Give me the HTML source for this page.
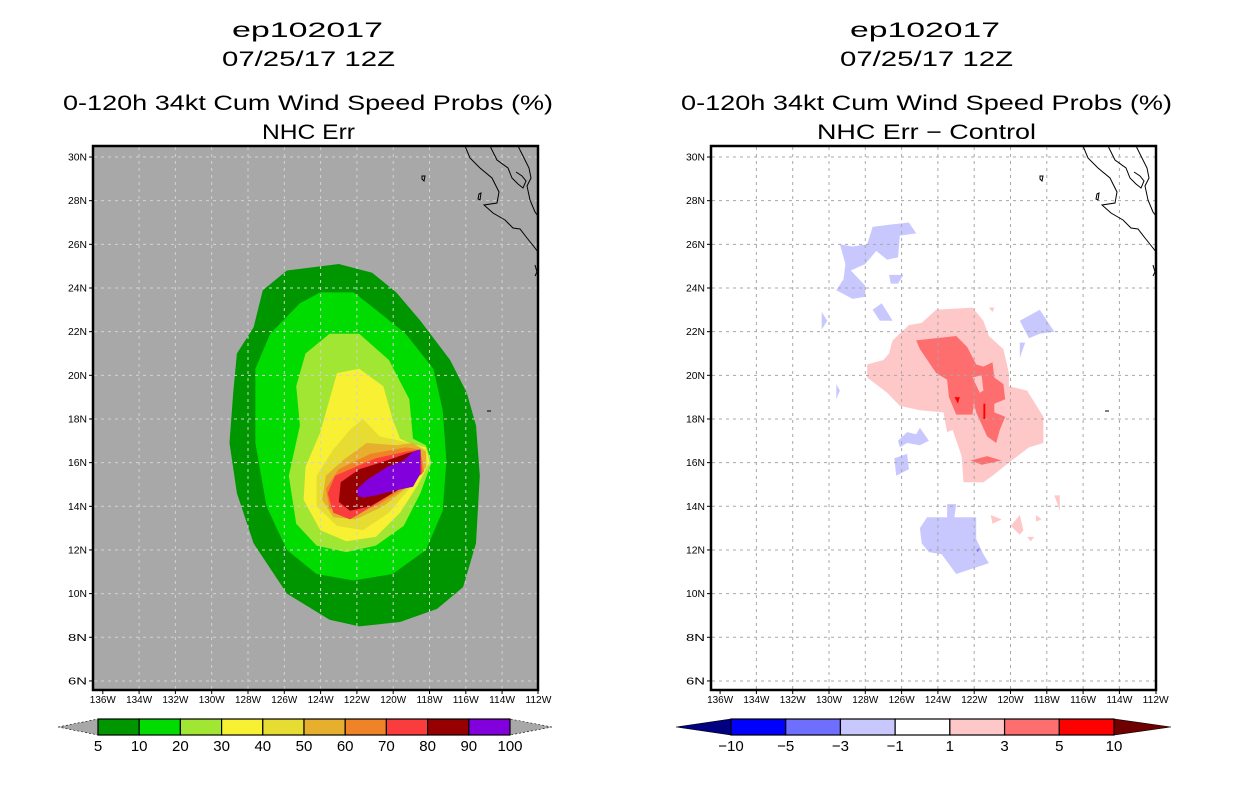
<!DOCTYPE html>
<html><head><meta charset="utf-8"><style>
html,body{margin:0;padding:0;background:#fff;}
svg{display:block;font-family:"Liberation Sans",sans-serif;}
</style></head><body>
<svg id="s" width="1236" height="800" viewBox="0 0 1236 800" xmlns="http://www.w3.org/2000/svg">
<g font-size="21" fill="#000" text-anchor="start">
<text x="232" y="37" textLength="151" lengthAdjust="spacingAndGlyphs">ep102017</text>
<text x="222" y="66" textLength="173" lengthAdjust="spacingAndGlyphs">07/25/17 12Z</text>
<text x="63" y="110" textLength="490" lengthAdjust="spacingAndGlyphs">0-120h 34kt Cum Wind Speed Probs (%)</text>
<text x="262" y="139" textLength="93" lengthAdjust="spacingAndGlyphs">NHC Err</text>
</g>
<g font-size="21" fill="#000">
<text x="850" y="37" textLength="150" lengthAdjust="spacingAndGlyphs">ep102017</text>
<text x="840" y="66" textLength="173" lengthAdjust="spacingAndGlyphs">07/25/17 12Z</text>
<text x="681" y="110" textLength="491" lengthAdjust="spacingAndGlyphs">0-120h 34kt Cum Wind Speed Probs (%)</text>
<text x="817" y="139" textLength="219" lengthAdjust="spacingAndGlyphs">NHC Err − Control</text>
</g>
<g id="L"></g>
<g id="R"></g>
<g id="CB"></g>
</svg>
<script>
// ---- data ----
const leftLevels = ["5","10","20","30","40","50","60","70","80","90","100"];
const leftColors = ["#009600","#00dc00","#a0e632","#f8f032","#e6dc32","#e6af2d","#f08228","#fa3c3c","#960000","#8200dc"];
const rightLevels = ["−10","−5","−3","−1","1","3","5","10"];
const rightColors = ["#000080","#0000ff","#6e6eff","#c8c8ff","#ffffff","#ffc8c8","#ff6e6e","#ff0000","#6e0000"];
const latTicks = [6,8,10,12,14,16,18,20,22,24,26,28,30];
const lonTicks = [136,134,132,130,128,126,124,122,120,118,116,114,112];
// contour polygons [lon,lat] for left (probability) panel, index = level band
const c05 = [[-125.9,24.8],[-123.1,25.1],[-121.3,24.7],[-120,23.8],[-118.7,22.5],[-117.1,20.7],[-116.2,19.2],[-115.7,17.7],[-115.5,15.4],[-115.7,12.3],[-116.4,10.3],[-117.8,9.3],[-119.8,8.7],[-122,8.5],[-123.6,8.8],[-125.9,10],[-127.7,12.3],[-128.6,14.6],[-129,16.9],[-128.8,19.2],[-128.6,21],[-127.7,22.2],[-127.2,23.9]];
const c10 = [[-124.1,23.8],[-122.3,23.8],[-121.1,23],[-119.5,21.9],[-118,20.3],[-117.5,18.4],[-117.3,16.1],[-117.5,13.8],[-118.4,12],[-120.2,10.9],[-122.3,10.6],[-124.3,10.9],[-125.9,12],[-127,14],[-127.6,16.9],[-127.6,20.3],[-126.8,21.9],[-125.2,23.3]];
const c20 = [[-123.6,21.9],[-122,21.9],[-120.4,20.7],[-119.3,18.9],[-119.1,17.1],[-118.4,16.8],[-118.1,16.0],[-118.7,14.6],[-119.6,13.1],[-121.1,12.2],[-122.7,11.9],[-124.3,12.2],[-125.4,13.2],[-125.8,15.4],[-125.2,17.7],[-125.4,19.5],[-124.9,21]];
const c30 = [[-123.2,20.1],[-122,20.3],[-120.7,19.5],[-120.2,18],[-119.8,17.1],[-119.3,16.9],[-118.4,16.7],[-118.2,16],[-118.9,14.9],[-119.8,13.7],[-121.1,12.6],[-122.7,12.4],[-124.1,12.9],[-125,14.3],[-124.9,15.8],[-124.1,17.4],[-123.6,18.9]];
const c40 = [[-121.8,18],[-120.9,17.2],[-119.8,17],[-118.9,16.8],[-118.4,16.6],[-118.3,15.8],[-119.3,14.8],[-120.4,13.7],[-121.8,12.9],[-123.2,13.1],[-124.3,14],[-124.3,15.4],[-123.4,16.6],[-122.5,17.5]];
const c50 = [[-121.6,16.9],[-120,16.8],[-119.1,16.9],[-118.4,16.5],[-118.4,15.8],[-119.5,14.8],[-120.7,14],[-122.2,13.4],[-123.4,13.5],[-124,14.3],[-123.8,15.4],[-122.9,16.1]];
const c60 = [[-121.4,16.4],[-119.5,16.7],[-118.7,16.6],[-118.5,15.6],[-119.6,14.8],[-121.1,14],[-122.5,13.7],[-123.6,13.9],[-123.8,14.8],[-123.1,15.7]];
const c70 = [[-121.1,16.2],[-119.5,16.5],[-118.7,16.6],[-118.6,15.5],[-119.8,14.8],[-121.3,14],[-122.5,13.4],[-123.4,13.7],[-123.7,14.6],[-123.3,15.4],[-122.2,15.8]];
const c80 = [[-120.5,16.1],[-119.5,16.4],[-118.7,16.6],[-118.7,15.5],[-120,14.7],[-121.4,14],[-122.5,13.8],[-123.1,14.2],[-123,15.1],[-122,15.7]];
const c90 = [[-122.1,14.8],[-121.6,15.2],[-120.5,15.8],[-119.6,16.1],[-119.1,16.5],[-118.7,16.6],[-118.7,15.5],[-119.1,14.9],[-120.2,14.7],[-121.1,14.5],[-121.8,14.4],[-122.1,14.5]];
const leftBands = [c05,c10,c20,c30,c40,c50,c60,c70,c80,c90];
// right (difference) panel polygons, with band index into rightColors
const pos1 = [[-124.1,23],[-122.1,23.1],[-121.5,22.5],[-121.2,21.8],[-120.4,21.2],[-120.1,20.1],[-120.1,19.5],[-119.1,19.3],[-118.2,18.1],[-118.2,16.9],[-119,16.7],[-120.1,16],[-121,15.4],[-121.5,15.1],[-122.6,15.1],[-122.7,16.3],[-123.2,17.5],[-123.5,17.4],[-123.7,18.3],[-125,18.4],[-126.1,18.6],[-126.8,19.2],[-127.9,19.9],[-127.9,20.5],[-127,20.7],[-126.7,21],[-126.5,21.6],[-125.6,22.3],[-124.9,22.4]];
const pos3 = [[-125.2,21.6],[-123,21.8],[-122.4,21.3],[-121.9,20.5],[-121.5,20.4],[-121,20.6],[-120.9,19.9],[-120.4,19.6],[-120.3,18.9],[-120.9,18.7],[-120.9,18.3],[-120.3,18.1],[-120.6,17.5],[-120.8,16.9],[-121.3,17.2],[-121.9,18.3],[-122.1,19],[-122,19],[-122.1,18.2],[-123,18.2],[-123.4,19],[-123.5,19.8],[-124.1,20.1],[-125,21.2]];
const pos1hole = [[-122.1,19.9],[-121.6,20],[-121.5,19.3],[-121.7,19.2]];
const pos3b = [[-122.2,16.1],[-121.3,16.3],[-120.5,16.1],[-121.6,15.9]];
const pos5a = [[-123.1,19.0],[-122.8,19.0],[-122.9,18.7]];
const pos5b = [[-121.5,18.7],[-121.4,18.7],[-121.4,18.0],[-121.5,18.0]];
const pos1s = [[[-117.6,14.5],[-117.3,14.5],[-117.3,13.8]],[[-120,13.1],[-119.5,13.6],[-119.3,12.9],[-119.5,12.7]],[[-121.1,13.6],[-120.5,13.4],[-121,13.2]],[[-118.6,13.6],[-118.3,13.4],[-118.6,13.3]],[[-119.1,12.6],[-118.7,12.6],[-118.9,12.4]],[[-121.2,23.1],[-120.9,23.1],[-121.0,22.9]]];
const neg3 = [
 [[-129.4,26],[-128.7,25.9],[-127.9,26],[-127.6,26.8],[-126.7,26.9],[-125.6,27],[-125.2,26.5],[-126.1,26.4],[-126.2,25.4],[-126.8,25.3],[-127.4,25.7],[-128,25.1],[-128.8,24.8],[-128,24.1],[-128,23.6],[-128.7,23.5],[-129.6,23.9],[-129.2,24.4],[-129.1,25.1]],
 [[-126.7,24.6],[-125.9,24.6],[-126.2,24.2],[-126.6,24.2]],
 [[-127.6,23.0],[-127.1,23.3],[-126.5,22.5],[-127.2,22.5]],
 [[-130.4,22.9],[-130.1,22.5],[-130.4,22.1]],
 [[-119.5,22.5],[-118.4,23],[-117.6,22],[-118.4,21.9],[-119,21.7]],
 [[-119.5,21.5],[-119.2,21.5],[-119.5,20.8]],
 [[-129.6,19.6],[-129.4,19.3],[-129.6,18.9]],
 [[-126.2,17],[-125.7,17.4],[-125.2,17.3],[-125,17.6],[-124.5,17],[-125,16.8],[-125.7,16.9],[-126.1,16.7]],
 [[-126.4,16.2],[-125.7,16.4],[-125.6,15.7],[-126.3,15.4]],
 [[-125,13],[-124.6,13.5],[-123.5,13.5],[-123.5,14.1],[-123,14.1],[-123.1,13.5],[-121.9,13.5],[-121.9,12.5],[-121.5,11.8],[-121.2,11.4],[-121.9,11.2],[-123,10.9],[-123.8,11.8],[-124.5,11.9],[-124.9,12.3]],
 [[-126.9,26.3],[-126.6,26.4],[-126.8,26.1]]
];
const neg5 = [[[-121.9,12.0],[-121.7,12.1],[-121.8,11.9]]];

// ---- axes ----
const NS="http://www.w3.org/2000/svg";
function el(tag,attrs,parent){const e=document.createElementNS(NS,tag);for(const k in attrs)e.setAttribute(k,attrs[k]);parent.appendChild(e);return e;}
const yLat = lat => 288 - (lat-24)*21.83;
const xLonL = lon => 248 + (lon+128)*18.54;
const xLonR = lon => 829 + (lon+130)*18.17;
const gxL = lon => 248 + (lon+128)*18.15;
const gxR = lon => 829 + (lon+130)*18.15;
function pts(poly,xf){return poly.map(p=>xf(p[0]).toFixed(1)+","+yLat(p[1]).toFixed(1)).join(" ");}

function panel(g,x0,bg,gridCol,gx,prefix){
  const x1=x0+445, y0=146, y1=690;
  const clip=el('clipPath',{id:prefix+'clip'},g);
  el('rect',{x:x0,y:y0,width:445,height:544},clip);
  const bgr=el('rect',{x:x0,y:y0,width:445,height:544,fill:bg},g);
  
  
  const data=el('g',{'clip-path':'url(#'+prefix+'clip)'},g);
  
  
  const grid=el('g',{stroke:gridCol,'stroke-width':1,'stroke-dasharray':'3,4',fill:'none'},g);
  
  
  // coastline layer
  const coast=el('g',{'clip-path':'url(#'+prefix+'clip)',stroke:'#000','stroke-width':1,fill:'none'},g);
  
  
  const dx=x0-93;
  const cpaths=["M465,146 L470,158 L480,168 L492,178 L499,192 L497,203 L484,205 L493,213 L505,220 L513,228 L520,229 L527,238 L535,248 L538,252",
   "M490,146 L497,160 L508,168 L512,178 L518,184 L523,188 L526,181 L522,176 L516,172",
   "M518,146 L524,158 L529,168 L531,178 L527,186 L530,200 L535,212 L538,216",
   "M535,265 L537,272 L535,276",
   "M422,176 L425,176 L424,181 L422,179 Z","M479,194 L481,193 L480,200 L478,199 Z"];
  cpaths.forEach(d=>el('path',{d:d,transform:'translate('+dx+',0)'},coast));
  el('path',{d:'M'+(487+dx)+',411 L'+(491+dx)+',411',stroke:'#000'},coast);
  // ticks and labels
  const tg=el('g',{'font-size':10,fill:'#000'},g);
  
  
  latTicks.forEach(lat=>{
    const y=yLat(lat);
    el('line',{x1:x0+1,x2:x1-1,y1:y,y2:y},grid);
    el('line',{x1:x0-4,x2:x0,y1:y,y2:y,stroke:'#000'},tg);
    const t=el('text',{x:x0-6,y:y+3.5,'text-anchor':'end',textLength:19,lengthAdjust:'spacingAndGlyphs'},tg);
    t.textContent=lat+'N';
    
    
  });
  lonTicks.forEach(lon=>{
    let x=gx(-lon);
    if(lon>136-1e-9 && x<x0) x=x0;
    if(lon===112) x=x1;
    if(lon!==136 && lon!==112) el('line',{x1:x,x2:x,y1:y0+1,y2:y1-1},grid);
    el('line',{x1:x,x2:x,y1:y1,y2:y1+4,stroke:'#000'},tg);
    const t=el('text',{x:gx(-lon),y:703,'text-anchor':'middle',textLength:26,lengthAdjust:'spacingAndGlyphs'},tg);
    t.textContent=lon+'W';
    
    
  });
  const fr=el('rect',{x:x0,y:y0,width:445,height:544,fill:'none',stroke:'#000','stroke-width':2.5},g);
  
  
  return data;
}

const L=document.getElementById('L'), R=document.getElementById('R');
const dL=panel(L,93,'#a8a8a8','#d2d2d2',gxL,'left');
leftBands.forEach((poly,i)=>{
  const p=el('polygon',{points:pts(poly,xLonL),fill:leftColors[i]},dL);
  
  
});
const dR=panel(R,711,'#ffffff','#a8a8a8',gxR,'right');
function rpoly(poly,col,name){
  const p=el('polygon',{points:pts(poly,xLonR),fill:col},dR);
  
  
}
neg3.forEach(p=>rpoly(p,rightColors[3],'diff-neg-3-1'));
neg5.forEach(p=>rpoly(p,rightColors[2],'diff-neg-5-3'));
rpoly(pos1,rightColors[5],'diff-pos-1-3');
pos1s.forEach(p=>rpoly(p,rightColors[5],'diff-pos-1-3'));
rpoly(pos3,rightColors[6],'diff-pos-3-5');
rpoly(pos1hole,rightColors[5],'diff-pos-1-3');
rpoly(pos3b,rightColors[6],'diff-pos-3-5');
rpoly(pos5a,rightColors[7],'diff-pos-5-10');
rpoly(pos5b,rightColors[7],'diff-pos-5-10');

// ---- colorbars ----
const CB=document.getElementById('CB');
function colorbar(x0,x1,tl,tr,colors,labels,triL,triR,prefix){
  const y0=719,y1=735,ym=727;
  const n=colors.length-2, w=(x1-x0)/n;
  const g=el('g',{},CB);
  
  
  const a=el('polygon',{points:`${tl},${ym} ${x0},${y0} ${x0},${y1}`,fill:triL,stroke:'#000','stroke-width':0.6,'stroke-dasharray':triL==='#a8a8a8'?'2,2':'none'},g);
  
  
  const b=el('polygon',{points:`${tr},${ym} ${x1},${y0} ${x1},${y1}`,fill:triR,stroke:'#000','stroke-width':0.6,'stroke-dasharray':triR==='#a8a8a8'?'2,2':'none'},g);
  
  
  for(let i=0;i<n;i++){
    const r=el('rect',{x:x0+i*w,y:y0,width:w,height:y1-y0,fill:colors[i+1],stroke:'#000','stroke-width':1.2},g);
    
    
  }
  labels.forEach((s,i)=>{
    const t=el('text',{x:x0+i*w,y:751,'text-anchor':'middle','font-size':15,fill:'#000'},g);
    t.textContent=s;
    
    
  });
}
colorbar(98,510,58,552,["#a8a8a8"].concat(leftColors).concat(["#a8a8a8"]),leftLevels,'#a8a8a8','#a8a8a8','left');
colorbar(731,1114,676,1171,rightColors,rightLevels,rightColors[0],rightColors[8],'right');
</script>
</body></html>
